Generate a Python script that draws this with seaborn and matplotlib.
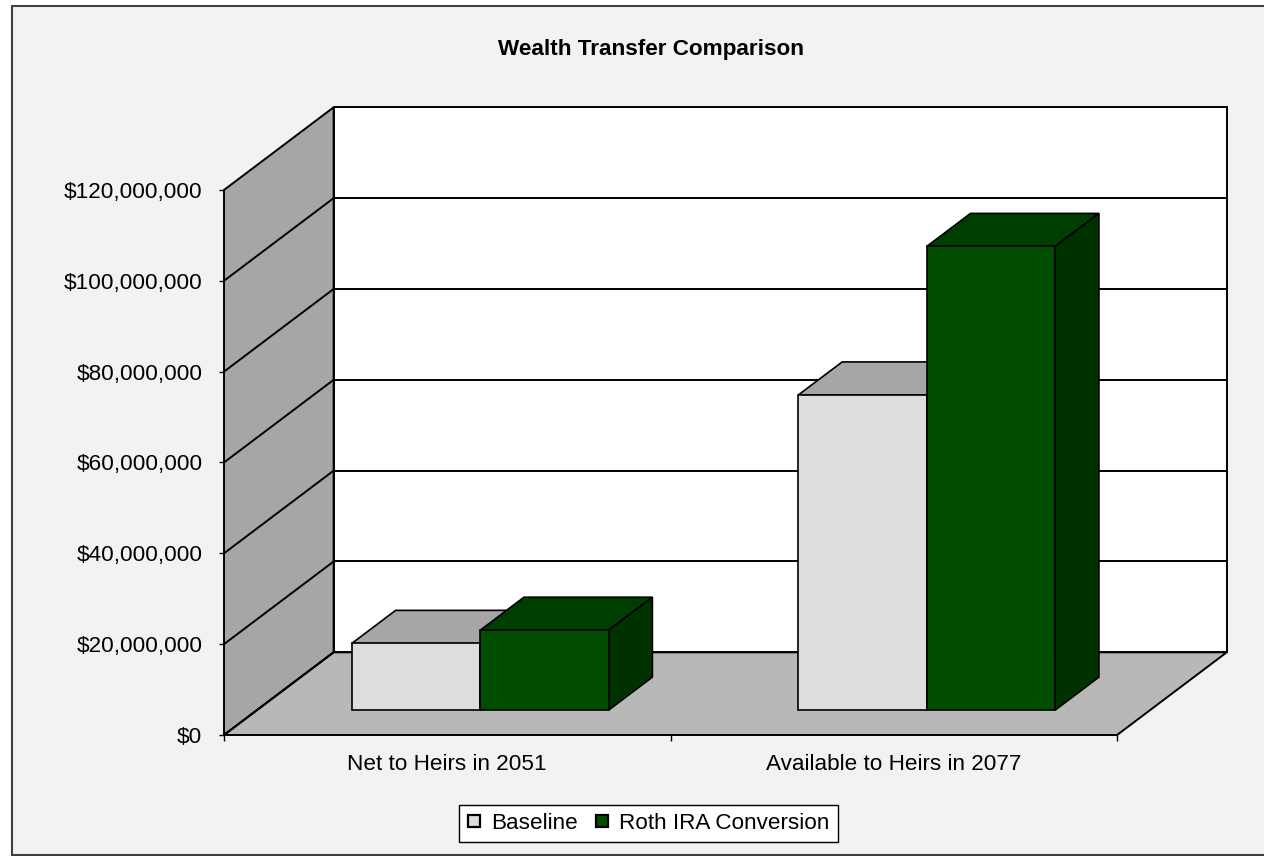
import matplotlib
matplotlib.use("Agg")
import matplotlib.pyplot as plt
import numpy as np
import pandas as pd
import seaborn as sns
from matplotlib.patches import Polygon, Rectangle
from matplotlib.lines import Line2D
from matplotlib.ticker import FuncFormatter

# ---------------- data ----------------
categories = ["Net to Heirs in 2051", "Available to Heirs in 2077"]
series = ["Baseline", "Roth IRA Conversion"]
baseline = [14.7e6, 69.4e6]
roth = [17.6e6, 102.1e6]
y_ticks = [0, 20e6, 40e6, 60e6, 80e6, 100e6, 120e6]
title = "Wealth Transfer Comparison"

df = pd.DataFrame({
    "category": categories * 2,
    "series": [series[0]] * len(categories) + [series[1]] * len(categories),
    "value": baseline + roth,
})

# ---------------- style ----------------
front_colors = ["#DDDDDD", "#004D00"]
top_colors = ["#A6A6A6", "#003D00"]
side_colors = ["#A6A6A6", "#003200"]
wall_color = "#A6A6A6"
floor_color = "#B8B8B8"
FS = 16.2
LW = 1.4

sns.set_theme(style="white")
plt.rcParams["font.family"] = ["Liberation Sans", "DejaVu Sans"]
plt.rcParams.update({"text.color": "black", "xtick.color": "black",
                     "ytick.color": "black", "axes.labelcolor": "black"})

W, H = 1264, 856
fig = plt.figure(figsize=(W / 100, H / 100), dpi=100)
fig.patch.set_facecolor("white")
frame = Rectangle((12 / W, 1 - 855 / H), (W + 20 - 12) / W, (855 - 6) / H,
                  transform=fig.transFigure, facecolor="#F2F2F2",
                  edgecolor="#404040", linewidth=1.5, zorder=-5)
fig.patches.append(frame)

ax = fig.add_axes([224 / W, 1 - 735 / H, (1226.7 - 224) / W, (735 - 107.3) / H])
ax.set_facecolor("none")
ax.set_zorder(2)

# oblique depth (style)
DX, DY = 0.2455, 18.2e6
F0, F1 = 0.30, 0.70
xa, xb = -0.5, len(categories) - 0.5
ytop = y_ticks[-1]

sns.barplot(data=df, x="category", y="value", hue="series", order=categories,
            hue_order=series, palette=front_colors, width=0.575, saturation=1,
            edgecolor="black", linewidth=1.2, legend=False, ax=ax)

# walls and floor
ax.add_patch(Polygon([(xa, 0), (xa, ytop), (xa + DX, ytop + DY), (xa + DX, DY)],
                     closed=True, facecolor=wall_color, edgecolor="black",
                     linewidth=LW, zorder=1, clip_on=False))
ax.add_patch(Polygon([(xa + DX, DY), (xb + DX, DY), (xb + DX, ytop + DY), (xa + DX, ytop + DY)],
                     closed=True, facecolor="white", edgecolor="black",
                     linewidth=LW, zorder=1, clip_on=False))
ax.add_patch(Polygon([(xa, 0), (xb, 0), (xb + DX, DY), (xa + DX, DY)],
                     closed=True, facecolor=floor_color, edgecolor="black",
                     linewidth=LW, zorder=2, clip_on=False))
for v in y_ticks[:-1]:
    ax.plot([xa, xa + DX], [v, v + DY], color="black", lw=LW, zorder=3,
            solid_capstyle="butt", clip_on=False)
    if v > 0:
        ax.plot([xa + DX, xb + DX], [v + DY, v + DY], color="black", lw=LW,
                zorder=3, solid_capstyle="butt", clip_on=False)

# extrude the bars
ddx, ddy = (F1 - F0) * DX, (F1 - F0) * DY
for i, cont in enumerate(ax.containers):
    z = 10 + i
    for bar in cont:
        x, w, h = bar.get_x(), bar.get_width(), bar.get_height()
        xs, ys = x + F0 * DX, F0 * DY
        bar.set_x(xs)
        bar.set_y(ys)
        bar.set_zorder(z + 0.5)
        ax.add_patch(Polygon([(xs, ys + h), (xs + w, ys + h), (xs + w + ddx, ys + h + ddy),
                              (xs + ddx, ys + h + ddy)], closed=True,
                             facecolor=top_colors[i], edgecolor="black",
                             linewidth=1.2, zorder=z, clip_on=False))
        ax.add_patch(Polygon([(xs + w, ys), (xs + w + ddx, ys + ddy), (xs + w + ddx, ys + h + ddy),
                              (xs + w, ys + h)], closed=True,
                             facecolor=side_colors[i], edgecolor="black",
                             linewidth=1.2, zorder=z, clip_on=False))

ax.set_xlim(xa, xb + DX)
ax.set_ylim(0, ytop + DY)
for s in ax.spines.values():
    s.set_visible(False)

ax.set_yticks(y_ticks)
ax.yaxis.set_major_formatter(FuncFormatter(lambda v, p: f"${v:,.0f}"))
ax.tick_params(axis="y", left=True, length=3.6, width=1, color="black",
               pad=12, labelsize=FS, labelcolor="black", direction="out")
ax.set_xticks(range(len(categories)), labels=categories)
ax.set_xticks(np.arange(len(categories) + 1) - 0.5, minor=True)
ax.tick_params(axis="x", which="major", bottom=True, length=0, pad=14,
               labelsize=FS, labelcolor="black")
ax.tick_params(axis="x", which="minor", bottom=True, length=4, width=1,
               color="black", direction="out")
ax.set_xlabel("")
ax.set_ylabel("")

fig.text(650.5 / W, 1 - 50 / H, title, ha="center", va="center",
         fontsize=FS, fontweight="bold", color="black")

handles = [Line2D([], [], linestyle="none", marker="s", markersize=8.5,
                  markerfacecolor=c, markeredgecolor="black", markeredgewidth=1.6)
           for c in front_colors]
leg = fig.legend(handles, series, loc="center", bbox_to_anchor=(648.5 / W, 1 - 823.5 / H),
                 ncol=2, frameon=True, fancybox=False, edgecolor="black",
                 fontsize=FS, handlelength=0.6, handletextpad=0.45,
                 columnspacing=0.8, borderpad=0.35, framealpha=1)
leg.get_frame().set_linewidth(1.0)
leg.get_frame().set_facecolor("white")
for t in leg.get_texts():
    t.set_color("black")

fig.savefig("out.png", dpi=100)
